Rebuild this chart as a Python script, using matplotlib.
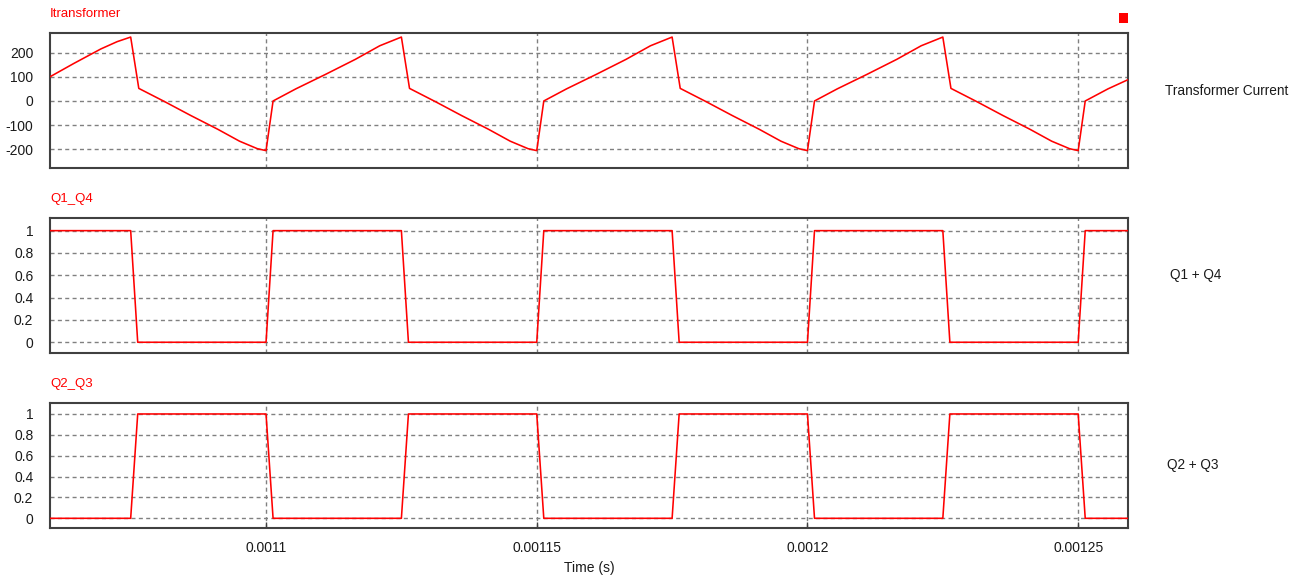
import numpy as np
import matplotlib
matplotlib.use("Agg")
import matplotlib.pyplot as plt
from matplotlib.patches import Rectangle

# ---------------- data (time in microseconds) ----------------
t_current_us = [1060.1, 1064.5, 1069.5, 1072.5, 1075.0, 1076.5, 1081.3, 1086.1, 1091.1, 1095.1, 1098.4,
                1100.0, 1101.3, 1105.5, 1111.0, 1116.5, 1121.0, 1125.0, 1126.5, 1131.3, 1136.1, 1141.1,
                1145.1, 1148.4, 1150.0, 1151.3, 1155.5, 1161.0, 1166.5, 1171.0, 1175.0, 1176.5, 1181.3,
                1186.1, 1191.1, 1195.1, 1198.4, 1200.0, 1201.3, 1205.5, 1211.0, 1216.5, 1221.0, 1225.0,
                1226.5, 1231.3, 1236.1, 1241.1, 1245.1, 1248.4, 1250.0, 1251.3, 1255.5, 1259.2]
i_transformer = [100, 155, 215, 245, 264, 52, -3, -60, -117, -166, -197,
                 -205, 0, 50, 110, 172, 228, 264, 52, -3, -60, -117,
                 -166, -197, -205, 0, 50, 110, 172, 228, 264, 52, -3,
                 -60, -117, -166, -197, -205, 0, 50, 110, 172, 228, 264,
                 52, -3, -60, -117, -166, -197, -205, 0, 50, 88]

t_gate_us = [1060.1, 1075.0, 1076.3, 1100.0, 1101.3, 1125.0, 1126.3, 1150.0, 1151.3,
             1175.0, 1176.3, 1200.0, 1201.3, 1225.0, 1226.3, 1250.0, 1251.3, 1259.2]
q1_q4 = [1, 1, 0, 0, 1, 1, 0, 0, 1, 1, 0, 0, 1, 1, 0, 0, 1, 1]
q2_q3 = [0, 0, 1, 1, 0, 0, 1, 1, 0, 0, 1, 1, 0, 0, 1, 1, 0, 0]

x_ticks = [0.0011, 0.00115, 0.0012, 0.00125]
x_tick_labels = ["0.0011", "0.00115", "0.0012", "0.00125"]
i_ticks = [-200, -100, 0, 100, 200]
i_tick_labels = ["-200", "-100", "0", "100", "200"]
g_ticks = [0, 0.2, 0.4, 0.6, 0.8, 1]
g_tick_labels = ["0", "0.2", "0.4", "0.6", "0.8", "1"]

titles = ["Itransformer", "Q1_Q4", "Q2_Q3"]
side_labels = ["Transformer Current", "Q1 + Q4", "Q2 + Q3"]
x_label = "Time (s)"

# ---------------- figure ----------------
W, H = 1308, 579
fig = plt.figure(figsize=(W / 100, H / 100), dpi=100)
plt.rcParams['font.family'] = ['Liberation Sans', 'DejaVu Sans']

RED = '#ff0000'
TXT = '#1a1a1a'
GRID = '#808080'
SPINE = '#404040'

t_cur = np.array(t_current_us) * 1e-6
t_gate = np.array(t_gate_us) * 1e-6

left_px, right_px = 50, 1128
panels = [(32.7, 168.3), (217.7, 353.3), (402.7, 527.7)]
ylims = [(-278, 282), (-0.099, 1.116), (-0.09, 1.108)]
series = [(t_cur, i_transformer), (t_gate, q1_q4), (t_gate, q2_q3)]
yticks = [(i_ticks, i_tick_labels), (g_ticks, g_tick_labels), (g_ticks, g_tick_labels)]
title_y = [14, 199, 384]
side_pos = [(1227, 91), (1196, 275), (1193, 465)]

xlim = (1060.1e-6, 1259.2e-6)

for k, (top, bot) in enumerate(panels):
    ax = fig.add_axes([left_px / W, 1 - bot / H, (right_px - left_px) / W, (bot - top) / H])
    x, y = series[k]
    ax.plot(x, y, color=RED, lw=1.15, zorder=3)
    ax.set_xlim(*xlim)
    ax.set_ylim(*ylims[k])
    ax.set_xticks(x_ticks)
    ax.set_yticks(yticks[k][0])
    ax.set_yticklabels(yticks[k][1], fontsize=10, color=TXT)
    ax.tick_params(axis='y', length=0, pad=12)
    if k == 2:
        ax.set_xticklabels(x_tick_labels, fontsize=10, color=TXT)
        ax.tick_params(axis='x', direction='in', length=4, width=1, color=SPINE, pad=9.5)
    else:
        ax.set_xticklabels([])
        ax.tick_params(axis='x', length=0)
    ax.grid(True, color=GRID, lw=1.0, linestyle=(0, (2.9, 2.4)), zorder=1)
    for s in ax.spines.values():
        s.set_color(SPINE)
        s.set_linewidth(1.5)
    fig.text(left_px / W, 1 - title_y[k] / H, titles[k], color=RED, fontsize=9.5,
             ha='left', va='center')
    fig.text(side_pos[k][0] / W, 1 - side_pos[k][1] / H, side_labels[k], color=TXT,
             fontsize=9.8, ha='center', va='center')

fig.text(589 / W, 1 - 568 / H, x_label, color=TXT, fontsize=10, ha='center', va='center')

# small red legend square
fig.patches.append(Rectangle((1119.3 / W, 1 - 22.7 / H), 8.4 / W, 9.4 / H,
                             transform=fig.transFigure, facecolor=RED, edgecolor='none'))

fig.savefig("out.png", dpi=100)
